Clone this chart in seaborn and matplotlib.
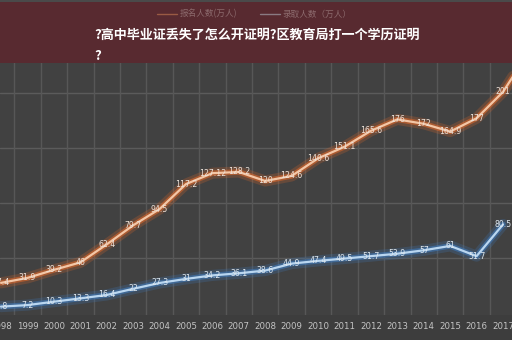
import numpy as np
import pandas as pd
import matplotlib
matplotlib.use("Agg")
import matplotlib.pyplot as plt
import matplotlib.patheffects as pe
from matplotlib.patches import Rectangle
from matplotlib.lines import Line2D
import seaborn as sns

years = list(range(1998, 2019))
applicants = [27.4, 31.9, 39.2, 46, 62.4, 79.7, 94.5, 117.2, 127.12, 128.2,
              120, 124.6, 140.6, 151.1, 165.6, 176, 172, 164.9, 177, 201, 238]
admitted = [5.8, 7.2, 10.3, 13.3, 16.4, 22, 27.3, 31, 34.2, 36.1,
            38.6, 44.9, 47.4, 49.5, 51.7, 53.9, 57, 61, 51.7, 80.5, np.nan]
app_labels = ["27.4", "31.9", "39.2", "46", "62.4", "79.7", "94.5", "117.2", "127.12", "128.2",
              "120", "124.6", "140.6", "151.1", "165.6", "176", "172", "164.9", "177", "201", ""]
adm_labels = ["5.8", "7.2", "10.3", "13.3", "16.4", "22", "27.3", "31", "34.2", "36.1",
              "38.6", "44.9", "47.4", "49.5", "51.7", "53.9", "57", "61", "51.7", "80.5", ""]
series_names = ["报名人数(万人)", "录取人数（万人）"]
title_line1 = "?高中毕业证丢失了怎么开证明?区教育局打一个学历证明"
title_line2 = "?"

sns.set_style("dark")
plt.rcParams["font.family"] = ["Noto Sans CJK SC", "DejaVu Sans"]

W, H = 512, 340
fig = plt.figure(figsize=(W / 100, H / 100), dpi=100)
bg = "#414141"
fig.patch.set_facecolor("#3d3d3d")
ax = fig.add_axes([0, 25 / H, 1, 315 / H])
ax.set_facecolor(bg)

df = pd.DataFrame({
    "year": years * 2,
    "value": applicants + admitted,
    "series": [series_names[0]] * len(years) + [series_names[1]] * len(years),
})
core = {series_names[0]: "#f3c6a6", series_names[1]: "#b9d6f0"}
glow = {series_names[0]: "#d8652a", series_names[1]: "#3f78b8"}
sns.lineplot(data=df, x="year", y="value", hue="series", palette=core,
             ax=ax, legend=False, linewidth=1.6)
for line, name in zip(ax.lines, series_names):
    line.set_path_effects([pe.Stroke(linewidth=8, foreground=glow[name], alpha=0.25),
                           pe.Stroke(linewidth=4, foreground=glow[name], alpha=0.6),
                           pe.Normal()])

for yr, v, lab in zip(years, applicants, app_labels):
    if lab:
        ax.text(yr, v, lab, ha="center", va="center", fontsize=5.6, color="#ece2da",
                family=["DejaVu Sans"])
for yr, v, lab in zip(years, admitted, adm_labels):
    if lab:
        ax.text(yr, v, lab, ha="center", va="center", fontsize=5.6, color="#dfe8ef",
                family=["DejaVu Sans"])

ax.set_xlim(1997.96, 2017.34)
ax.set_ylim(-1.8, 284.5)
ax.set_xticks(years[:-1])
ax.set_xticklabels([str(y) for y in years[:-1]], fontsize=6.2, color="#c4c4c4",
                   family=["DejaVu Sans"])
ax.set_yticks([])
ax.set_xlabel("")
ax.set_ylabel("")
ax.tick_params(axis="x", length=0, pad=5)
for s in ax.spines.values():
    s.set_visible(False)
for yv in [50, 100, 150, 200, 250]:
    ax.axhline(yv, color="#5b5b5b", lw=1, zorder=0)
for xv in np.arange(1998.5, 2018, 1):
    ax.axvline(xv, color="#575757", lw=1, zorder=0)

# title banner
fig.add_artist(Rectangle((0, 1 - 63 / H), 1, 61 / H, transform=fig.transFigure,
                         facecolor="#582a30", edgecolor="none", zorder=5))
fig.add_artist(Rectangle((0, 1 - 2 / H), 1, 2 / H, transform=fig.transFigure,
                         facecolor="#4a4a4a", edgecolor="none", zorder=5))

# legend inside banner
fig.add_artist(Line2D([157 / W, 177 / W], [1 - 14 / H, 1 - 14 / H], transform=fig.transFigure,
                      color="#9a5a44", lw=1, zorder=6))
fig.text(180 / W, 1 - 14 / H, series_names[0], fontsize=6.2, color="#8c6a6d",
         va="center", ha="left", zorder=6)
fig.add_artist(Line2D([260 / W, 280 / W], [1 - 14 / H, 1 - 14 / H], transform=fig.transFigure,
                      color="#8a7a82", lw=1, zorder=6))
fig.text(282 / W, 1 - 14 / H, series_names[1], fontsize=6.2, color="#8c6a6d",
         va="center", ha="left", zorder=6)

fig.text(94 / W, 1 - 35 / H, title_line1, fontsize=9.4, color="white", fontweight="bold",
         va="center", ha="left", zorder=7)
fig.text(94 / W, 1 - 56 / H, title_line2, fontsize=9.4, color="white", fontweight="bold",
         va="center", ha="left", zorder=7)

fig.savefig("out.png", dpi=100, facecolor=fig.get_facecolor())
